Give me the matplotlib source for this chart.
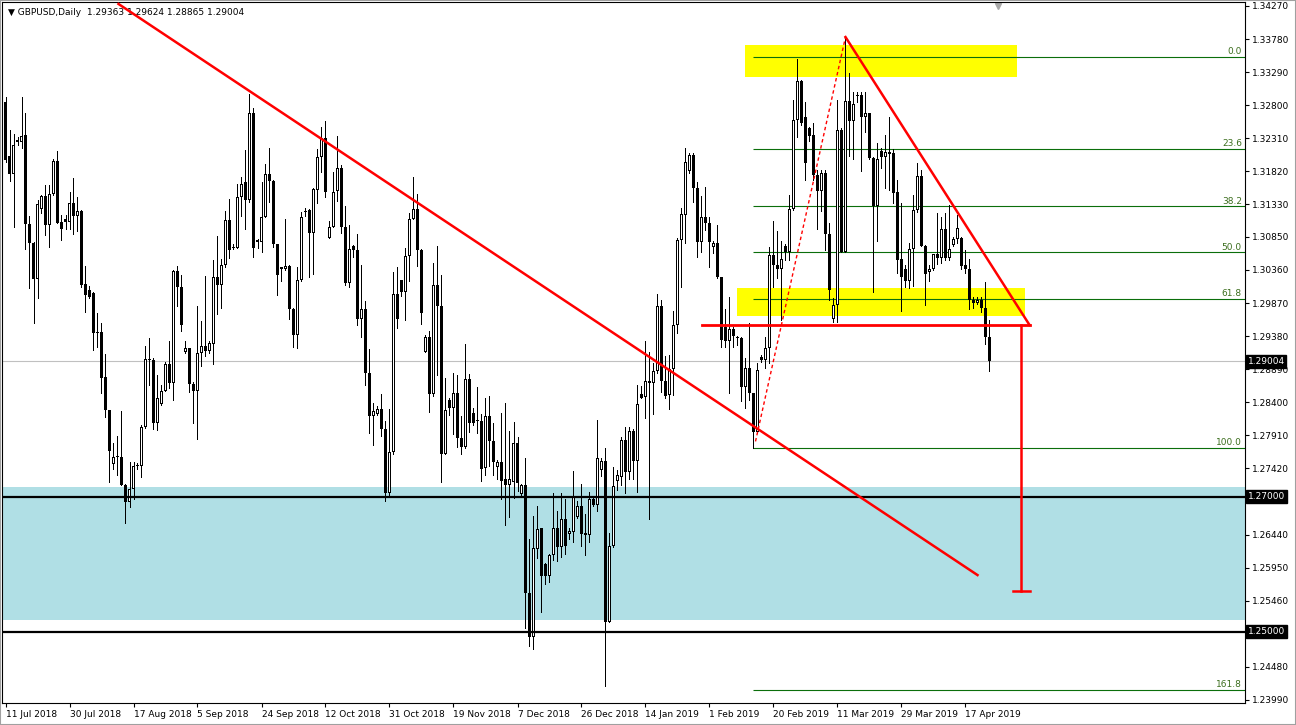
import matplotlib
matplotlib.use("Agg")
import matplotlib.pyplot as plt
import matplotlib.transforms as mtransforms
from matplotlib.patches import Rectangle
import numpy as np

# GBPUSD daily candles (bar 0 = 11 Jul 2018)
opens = [
    1.3285, 1.3205, 1.3178, 1.3229, 1.3225, 1.3236, 1.3104, 1.3076, 1.3022, 1.3126,
    1.3146, 1.3103, 1.3149, 1.3197, 1.3107, 1.3111, 1.3107, 1.3135, 1.3116, 1.3123,
    1.3015, 1.3006, 1.3002, 1.2944, 1.2944, 1.2877, 1.2828, 1.2748, 1.2759, 1.2759,
    1.2718, 1.2692, 1.2711, 1.2745, 1.2745, 1.2803, 1.2904, 1.2903, 1.2809, 1.2838,
    1.2857, 1.2896, 1.2868, 1.3035, 1.3010, 1.2915, 1.2920, 1.2867, 1.2856, 1.2913,
    1.2923, 1.2916, 1.2927, 1.3025, 1.3014, 1.3043, 1.3110, 1.3068, 1.3069, 1.3144,
    1.3166, 1.3139, 1.3268, 1.3080, 1.3078, 1.3114, 1.3178, 1.3168, 1.3074, 1.3040,
    1.3037, 1.3042, 1.2978, 1.2939, 1.3021, 1.3122, 1.3125, 1.3090, 1.3155, 1.3203,
    1.3231, 1.3084, 1.3100, 1.3153, 1.3187, 1.3099, 1.3017, 1.3072, 1.3066, 1.2963,
    1.2978, 1.2883, 1.2819, 1.2822, 1.2830, 1.2801, 1.2706, 1.2766, 1.3001, 1.3021,
    1.3004, 1.3057, 1.3112, 1.3126, 1.3065, 1.2915, 1.2936, 1.2852, 1.3014, 1.2983,
    1.2764, 1.2843, 1.2832, 1.2854, 1.2787, 1.2774, 1.2875, 1.2824, 1.2812, 1.2812,
    1.2742, 1.2820, 1.2783, 1.2744, 1.2751, 1.2726, 1.2718, 1.2722, 1.2779, 1.2704,
    1.2718, 1.2558, 1.2492, 1.2623, 1.2653, 1.2600, 1.2582, 1.2613, 1.2653, 1.2625,
    1.2667, 1.2645, 1.2648, 1.2670, 1.2686, 1.2646, 1.2644, 1.2696, 1.2688, 1.2739,
    1.2753, 1.2514, 1.2627, 1.2724, 1.2730, 1.2784, 1.2737, 1.2797, 1.2753, 1.2852,
    1.2848, 1.2872, 1.2869, 1.2886, 1.2983, 1.2871, 1.2851, 1.2889, 1.2955, 1.3080,
    1.3118, 1.3183, 1.3206, 1.3158, 1.3078, 1.3114, 1.3106, 1.3070, 1.3076, 1.3025,
    1.2952, 1.2931, 1.2948, 1.2935, 1.2935, 1.2862, 1.2890, 1.2853, 1.2796, 1.2907,
    1.2903, 1.2921, 1.3058, 1.3043, 1.3038, 1.3072, 1.3063, 1.3126, 1.3258, 1.3316,
    1.3262, 1.3246, 1.3236, 1.3177, 1.3153, 1.3179, 1.3089, 1.2964, 1.2984, 1.3244,
    1.3063, 1.3286, 1.3256, 1.3294, 1.3295, 1.3262, 1.3268, 1.3202, 1.3130, 1.3212,
    1.3204, 1.3210, 1.3209, 1.3151, 1.3052, 1.3037, 1.3020, 1.3067, 1.3125, 1.3175,
    1.3072, 1.3033, 1.3037, 1.3060, 1.3053, 1.3096, 1.3053, 1.3073, 1.3082, 1.3084,
    1.3043, 1.3037, 1.2992, 1.2987, 1.2992, 1.2979, 1.29363,
]
highs = [
    1.3292, 1.3243, 1.3238, 1.3233, 1.3292, 1.3268, 1.3116, 1.3077, 1.3140, 1.3147,
    1.3162, 1.3162, 1.3201, 1.3212, 1.3117, 1.3117, 1.3152, 1.3172, 1.3144, 1.3125,
    1.3042, 1.3012, 1.3004, 1.2972, 1.2958, 1.2911, 1.2829, 1.2779, 1.2790, 1.2827,
    1.2719, 1.2752, 1.2751, 1.2750, 1.2806, 1.2923, 1.2935, 1.2906, 1.2880, 1.2866,
    1.2900, 1.2931, 1.3036, 1.3042, 1.3029, 1.2931, 1.2921, 1.2870, 1.2983, 1.2960,
    1.3027, 1.2931, 1.3051, 1.3086, 1.3052, 1.3123, 1.3141, 1.3075, 1.3163, 1.3173,
    1.3214, 1.3297, 1.3276, 1.3082, 1.3166, 1.3193, 1.3216, 1.3169, 1.3075, 1.3041,
    1.3111, 1.3043, 1.2979, 1.3041, 1.3122, 1.3128, 1.3126, 1.3157, 1.3215, 1.3247,
    1.3257, 1.3108, 1.3181, 1.3234, 1.3192, 1.3131, 1.3103, 1.3073, 1.3089, 1.3043,
    1.2990, 1.2919, 1.2839, 1.2834, 1.2852, 1.2812, 1.2830, 1.3033, 1.3041, 1.3021,
    1.3068, 1.3121, 1.3173, 1.3149, 1.3067, 1.2939, 1.2946, 1.3046, 1.3072, 1.3029,
    1.2876, 1.2846, 1.2883, 1.2881, 1.2820, 1.2926, 1.2882, 1.2831, 1.2863, 1.2822,
    1.2847, 1.2849, 1.2809, 1.2755, 1.2824, 1.2839, 1.2797, 1.2811, 1.2789, 1.2719,
    1.2758, 1.2637, 1.2671, 1.2686, 1.2654, 1.2602, 1.2615, 1.2706, 1.2679, 1.2706,
    1.2697, 1.2654, 1.2738, 1.2693, 1.2719, 1.2675, 1.2707, 1.2699, 1.2814, 1.2758,
    1.2772, 1.2646, 1.2744, 1.2740, 1.2789, 1.2803, 1.2803, 1.2800, 1.2866, 1.2864,
    1.2930, 1.2915, 1.2898, 1.3000, 1.2992, 1.2908, 1.2910, 1.2975, 1.3083, 1.3128,
    1.3216, 1.3209, 1.3209, 1.3167, 1.3145, 1.3159, 1.3115, 1.3079, 1.3103, 1.3026,
    1.2978, 1.2996, 1.2952, 1.2938, 1.2937, 1.2905, 1.2958, 1.2854, 1.2898, 1.2910,
    1.2937, 1.3070, 1.3109, 1.3094, 1.3079, 1.3074, 1.3147, 1.3288, 1.3348, 1.3318,
    1.3285, 1.3248, 1.3253, 1.3184, 1.3184, 1.3184, 1.3106, 1.2994, 1.3288, 1.3246,
    1.3379, 1.3328, 1.3300, 1.3300, 1.3299, 1.3299, 1.3269, 1.3204, 1.3224, 1.3216,
    1.3236, 1.3262, 1.3215, 1.3169, 1.3135, 1.3043, 1.3076, 1.3147, 1.3194, 1.3184,
    1.3073, 1.3043, 1.3060, 1.3121, 1.3115, 1.3121, 1.3132, 1.3085, 1.3117, 1.3085,
    1.3066, 1.3052, 1.2996, 1.2996, 1.2996, 1.3018, 1.29624,
]
lows = [
    1.3196, 1.3168, 1.3100, 1.3221, 1.3216, 1.3067, 1.3009, 1.2957, 1.2994, 1.3120,
    1.3088, 1.3070, 1.3147, 1.3106, 1.3081, 1.3096, 1.3096, 1.3089, 1.3094, 1.3011,
    1.2974, 1.2994, 1.2917, 1.2922, 1.2853, 1.2818, 1.2722, 1.2741, 1.2732, 1.2717,
    1.2661, 1.2685, 1.2696, 1.2741, 1.2730, 1.2802, 1.2866, 1.2801, 1.2799, 1.2836,
    1.2857, 1.2861, 1.2843, 1.2983, 1.2945, 1.2913, 1.2855, 1.2809, 1.2785, 1.2894,
    1.2908, 1.2913, 1.2896, 1.2970, 1.2979, 1.3041, 1.3054, 1.3067, 1.3068, 1.3116,
    1.3096, 1.3137, 1.3055, 1.3069, 1.3062, 1.3114, 1.3136, 1.3070, 1.2999, 1.3020,
    1.3036, 1.2964, 1.2922, 1.2921, 1.3019, 1.3116, 1.3026, 1.3030, 1.3135, 1.3181,
    1.3144, 1.3084, 1.3100, 1.3138, 1.3090, 1.3014, 1.3010, 1.3055, 1.2955, 1.2936,
    1.2866, 1.2795, 1.2776, 1.2821, 1.2790, 1.2694, 1.2699, 1.2764, 1.2950, 1.2998,
    1.2962, 1.3019, 1.3111, 1.3042, 1.2956, 1.2914, 1.2826, 1.2849, 1.2880, 1.2722,
    1.2763, 1.2821, 1.2793, 1.2773, 1.2763, 1.2772, 1.2796, 1.2806, 1.2794, 1.2724,
    1.2732, 1.2746, 1.2732, 1.2727, 1.2697, 1.2658, 1.2670, 1.2698, 1.2709, 1.2702,
    1.2505, 1.2479, 1.2475, 1.2609, 1.2529, 1.2571, 1.2573, 1.2607, 1.2605, 1.2611,
    1.2615, 1.2638, 1.2633, 1.2668, 1.2627, 1.2614, 1.2633, 1.2686, 1.2679, 1.2731,
    1.2420, 1.2514, 1.2626, 1.2710, 1.2718, 1.2706, 1.2727, 1.2727, 1.2707, 1.2846,
    1.2817, 1.2667, 1.2823, 1.2884, 1.2855, 1.2846, 1.2830, 1.2851, 1.2942, 1.3010,
    1.3076, 1.3179, 1.3136, 1.3055, 1.3063, 1.3095, 1.3041, 1.3061, 1.3024, 1.2922,
    1.2922, 1.2853, 1.2922, 1.2925, 1.2842, 1.2831, 1.2843, 1.2772, 1.2794, 1.2900,
    1.2890, 1.2898, 1.3010, 1.3024, 1.2962, 1.3051, 1.3051, 1.3125, 1.3233, 1.3251,
    1.3169, 1.3227, 1.3169, 1.3096, 1.3123, 1.3066, 1.2992, 1.2959, 1.2959, 1.3062,
    1.3062, 1.3205, 1.3201, 1.3285, 1.3182, 1.3240, 1.3201, 1.3003, 1.3079, 1.3187,
    1.3158, 1.3154, 1.3135, 1.3032, 1.2975, 1.3011, 1.3009, 1.3012, 1.3122, 1.3071,
    1.2984, 1.3020, 1.3036, 1.3045, 1.3046, 1.3051, 1.3050, 1.3071, 1.3076, 1.3037,
    1.3031, 1.2978, 1.2979, 1.2986, 1.2973, 1.2927, 1.28865,
]
closes = [
    1.3199, 1.3178, 1.3221, 1.3225, 1.3234, 1.3104, 1.3076, 1.3022, 1.3134, 1.3146,
    1.3103, 1.3149, 1.3197, 1.3106, 1.3096, 1.3107, 1.3135, 1.3116, 1.3123, 1.3014,
    1.2999, 1.2996, 1.2942, 1.2942, 1.2876, 1.2828, 1.2768, 1.2759, 1.2760, 1.2718,
    1.2692, 1.2711, 1.2745, 1.2746, 1.2803, 1.2904, 1.2903, 1.2809, 1.2846, 1.2857,
    1.2896, 1.2868, 1.3035, 1.3010, 1.2955, 1.2920, 1.2867, 1.2856, 1.2913, 1.2923,
    1.2916, 1.2928, 1.3025, 1.3014, 1.3043, 1.3110, 1.3065, 1.3069, 1.3144, 1.3164,
    1.3140, 1.3268, 1.3069, 1.3078, 1.3114, 1.3178, 1.3168, 1.3074, 1.3028, 1.3037,
    1.3042, 1.2978, 1.2939, 1.3021, 1.3114, 1.3124, 1.3091, 1.3156, 1.3203, 1.3231,
    1.3151, 1.3100, 1.3152, 1.3187, 1.3099, 1.3016, 1.3067, 1.3066, 1.2963, 1.2978,
    1.2883, 1.2819, 1.2827, 1.2830, 1.2801, 1.2706, 1.2766, 1.3001, 1.2963, 1.3004,
    1.3057, 1.3112, 1.3126, 1.3065, 1.2972, 1.2936, 1.2852, 1.3014, 1.2982, 1.2764,
    1.2829, 1.2832, 1.2854, 1.2787, 1.2774, 1.2875, 1.2810, 1.2810, 1.2813, 1.2741,
    1.2820, 1.2783, 1.2752, 1.2751, 1.2724, 1.2718, 1.2726, 1.2779, 1.2720, 1.2718,
    1.2558, 1.2492, 1.2624, 1.2652, 1.2583, 1.2582, 1.2613, 1.2653, 1.2625, 1.2667,
    1.2627, 1.2650, 1.2700, 1.2686, 1.2645, 1.2644, 1.2697, 1.2688, 1.2757, 1.2753,
    1.2514, 1.2627, 1.2716, 1.2732, 1.2784, 1.2737, 1.2797, 1.2753, 1.2837, 1.2847,
    1.2872, 1.2869, 1.2886, 1.2983, 1.2871, 1.2849, 1.2889, 1.2955, 1.3080, 1.3119,
    1.3196, 1.3206, 1.3158, 1.3078, 1.3114, 1.3106, 1.3078, 1.3076, 1.3025, 1.2932,
    1.2931, 1.2948, 1.2938, 1.2935, 1.2862, 1.2890, 1.2853, 1.2796, 1.2888, 1.2902,
    1.2921, 1.3058, 1.3043, 1.3038, 1.3052, 1.3063, 1.3126, 1.3258, 1.3316, 1.3253,
    1.3194, 1.3234, 1.3177, 1.3153, 1.3179, 1.3089, 1.3007, 1.2984, 1.3244, 1.3063,
    1.3286, 1.3256, 1.3282, 1.3295, 1.3262, 1.3268, 1.3202, 1.3130, 1.3201, 1.3204,
    1.3211, 1.3207, 1.3150, 1.3051, 1.3026, 1.3019, 1.3067, 1.3125, 1.3175, 1.3072,
    1.3030, 1.3037, 1.3060, 1.3053, 1.3096, 1.3053, 1.3067, 1.3082, 1.3098, 1.3042,
    1.3037, 1.2992, 1.2987, 1.2992, 1.2979, 1.2936, 1.29004,
]

date_labels = ["11 Jul 2018", "30 Jul 2018", "17 Aug 2018", "5 Sep 2018", "24 Sep 2018",
               "12 Oct 2018", "31 Oct 2018", "19 Nov 2018", "7 Dec 2018", "26 Dec 2018",
               "14 Jan 2019", "1 Feb 2019", "20 Feb 2019", "11 Mar 2019", "29 Mar 2019",
               "17 Apr 2019"]
price_ticks = [1.34270, 1.33780, 1.33290, 1.32800, 1.32310, 1.31820, 1.31330, 1.30850,
               1.30360, 1.29870, 1.29380, 1.28890, 1.28400, 1.27910, 1.27420, 1.26930,
               1.26440, 1.25950, 1.25460, 1.24970, 1.24480, 1.23990]

# fibonacci retracement (swing low bar 187 -> swing high)
fib_high = 1.33515
fib_low = 1.27723
fib_start = 187
fib_levels = [0.0, 23.6, 38.2, 50.0, 61.8, 100.0, 161.8]

# support zone and horizontal levels
zone_low, zone_high = 1.25175, 1.27145
key_levels = [1.27000, 1.25000]
bid = closes[-1]

# hand drawn objects: (bar, price)
trend_line = ([28.25, 243.0], [1.3430, 1.2584])
swing_line = ([187.5, 210.0], [1.2782, 1.3381])
triangle_edge = ([210.0, 256.0], [1.3381, 1.29545])
neckline = ([174.25, 256.0], [1.29545, 1.29545])
target_bar, target_price = 254.0, 1.25604
box_upper = (185.0, 253.0, 1.33218, 1.33692)
box_lower = (183.0, 255.0, 1.29682, 1.30097)

W, H = 1296, 725
fig = plt.figure(figsize=(W / 100, H / 100), dpi=100)
ax = fig.add_axes([2 / W, 22 / H, 1243 / W, 701 / H])
xmin = -0.875
ax.set_xlim(xmin, xmin + 1243 / 4)
ymin, ymax = 1.23945, 1.34329
ax.set_ylim(ymin, ymax)
px = (ymax - ymin) / 701  # one screen pixel in price units

# background objects
ax.axhspan(zone_low, zone_high, color="#B0DFE5", lw=0, zorder=0)
for x0, x1, y0, y1 in [box_upper, box_lower]:
    ax.add_patch(Rectangle((x0, y0), x1 - x0, y1 - y0, fc="#FFFF00", ec="none", zorder=0.5))
ax.axhline(bid, color="#C0C0C0", lw=0.8, zorder=0.6)

fib_prices = [fib_high - (fib_high - fib_low) * lv / 100 for lv in fib_levels]
ax.hlines(fib_prices, fib_start, 320, color="#0B6E0B", lw=0.8, zorder=0.7)
blend = mtransforms.blended_transform_factory(ax.transAxes, ax.transData)
for lv, p in zip(fib_levels, fib_prices):
    ax.text(0.9975, p + 0.00012, f"{lv:.1f}", transform=blend, ha="right", va="bottom",
            fontsize=6.5, color="#3C6E1E", zorder=1)

# candles: 1px wick, 3px body, hollow up candles
x = np.arange(len(opens))
o, h, l, c = map(np.array, (opens, highs, lows, closes))
ax.vlines(x, l, h, color="black", lw=0.72, zorder=3, antialiased=False)
body_lo = np.minimum(o, c)
body_h = np.maximum(np.abs(c - o), px)
ax.bar(x, body_h, bottom=body_lo, width=0.75, color="black", lw=0, zorder=4,
       antialiased=False)
hollow = (c > o) & (c - o > 2.5 * px)
ax.bar(x[hollow], (c - o)[hollow] - 2 * px, bottom=o[hollow] + px, width=0.25,
       color="white", lw=0, zorder=4.5, antialiased=False)

# key horizontal levels
for lvl in key_levels:
    ax.axhline(lvl, color="black", lw=1.6, zorder=5)

# red drawings
ax.plot(*trend_line, color="#FF0000", lw=1.8, zorder=6)
ax.plot(*swing_line, color="#FF0000", lw=1, ls=(0, (2.5, 2)), zorder=6)
ax.plot(*triangle_edge, color="#FF0000", lw=1.8, zorder=6)
ax.plot(*neckline, color="#FF0000", lw=2, zorder=6)
ax.plot([target_bar, target_bar], [neckline[1][0], target_price], color="#FF0000", lw=1.8, zorder=6)
ax.plot([target_bar - 2, target_bar + 2], [target_price, target_price], color="#FF0000", lw=1.8, zorder=6)

# axes styling, MT4 look
for s in ax.spines.values():
    s.set_color("black")
    s.set_linewidth(0.8)
ax.yaxis.tick_right()
ax.set_yticks(price_ticks)
# labels sitting under the black level boxes are hidden, as in the terminal
covered = [p for p in price_ticks if any(abs(p - k) < 0.001 for k in key_levels)]
ax.set_yticklabels(["" if p in covered else f"{p:.5f}" for p in price_ticks])
ax.tick_params(axis="y", direction="out", length=3, width=0.8, pad=2, labelsize=6.5)
ax.set_xticks(np.arange(len(date_labels)) * 16)
ax.set_xticklabels(date_labels)
for lbl in ax.get_xticklabels():
    lbl.set_ha("left")
ax.tick_params(axis="x", direction="out", length=3, width=0.8, pad=2, labelsize=6.5)

for p in key_levels + [bid]:
    ax.text(1.002, p, f"{p:.5f}", transform=blend, ha="left", va="center", fontsize=6.5,
            color="white", zorder=10, clip_on=False,
            bbox=dict(boxstyle="square,pad=0.2", fc="black", ec="black"))

header = f"\u25bc GBPUSD,Daily  {opens[-1]:.5f} {highs[-1]:.5f} {lows[-1]:.5f} {closes[-1]:.5f}"
ax.text(0.005, 0.985, header, transform=ax.transAxes, ha="left", va="center",
        fontsize=6.5, color="black", zorder=2)
ax.plot([0.801], [0.994], marker="v", color="#A8A8A8", ms=5, transform=ax.transAxes,
        clip_on=False, zorder=2)

fig.patches.append(Rectangle((0, 0), 1, 1, transform=fig.transFigure, fill=False,
                             ec="#A0A0A0", lw=1.5))

fig.savefig("out.png", dpi=100, facecolor="white")
